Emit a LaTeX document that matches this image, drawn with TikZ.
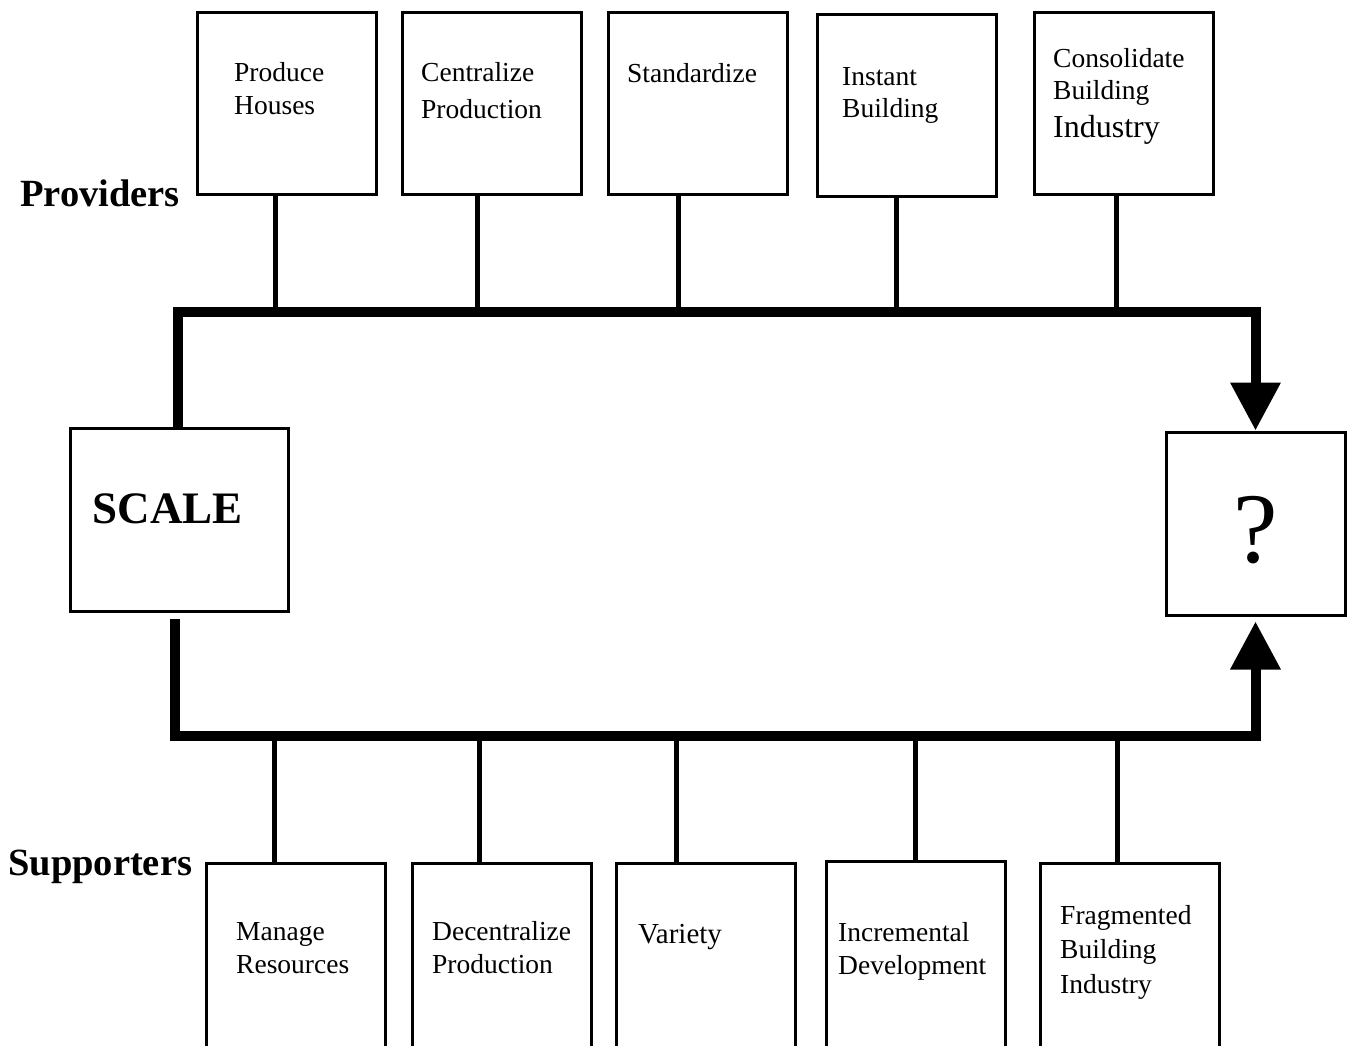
\documentclass[tikz,border=0pt]{standalone}
\usepackage{fontspec}
\setmainfont{Liberation Serif}
\usetikzlibrary{arrows.meta}
\begin{document}
\begin{tikzpicture}[x=1pt,y=-1pt,
  boxed/.style={draw,line width=3pt,minimum width=179pt,minimum height=182pt,
                anchor=north west,inner sep=0pt,xshift=1.5pt,yshift=-1.5pt},
  tall/.style={boxed,minimum height=200pt},
  txt/.style={anchor=base west,inner sep=0pt,font=\fontsize{27.5}{32}\selectfont},
  bigtxt/.style={txt,font=\fontsize{32}{36}\selectfont},
  heading/.style={anchor=base west,inner sep=0pt,font=\fontsize{38.5}{42}\selectfont\bfseries},
  stem/.style={line width=4.5pt},
  bus/.style={line width=10pt,line join=miter},
  tip/.style={-{Triangle[width=48pt,length=48pt]}}]
\clip (0,0) rectangle (1353,1046);

% providers row
\node[boxed] (p1) at (194,10) {};
\node[boxed] (p2) at (399,10) {};
\node[boxed] (p3) at (605,10) {};
\node[boxed] (p4) at (814,12) {};
\node[boxed] (p5) at (1031,10) {};

\node[txt] (p1a) at (234,82) {Produce};
\node[txt] (p1b) at (234,115) {Houses};
\node[txt] (p2a) at (421,82) {Centralize};
\node[txt] (p2b) at (421,119) {Production};
\node[txt] (p3a) at (627,83) {Standardize};
\node[txt] (p4a) at (842,86) {Instant};
\node[txt] (p4b) at (842,118) {Building};
\node[txt] (p5a) at (1053,68) {Consolidate};
\node[txt] (p5b) at (1053,100) {Building};
\node[bigtxt] (p5c) at (1053,138) {Industry};

\node[heading] (prov) at (20,207) {Providers};

% central boxes
\node[boxed,minimum width=218pt,minimum height=183pt] (scale) at (67,425) {};
\node[anchor=base,inner sep=0pt,font=\fontsize{45}{50}\selectfont\bfseries]
  (scalet) at (168,523) {SCALE};
\node[boxed,minimum height=183pt] (q) at (1163,429) {};
\node[anchor=base,inner sep=0pt,font=\fontsize{100}{110}\selectfont]
  (qt) at (q.center |- 0,562) {?};

% supporters row
\node[tall] (s1) at (203,860) {};
\node[tall] (s2) at (409,860) {};
\node[tall] (s3) at (613,860) {};
\node[tall] (s4) at (823,858) {};
\node[tall] (s5) at (1037,860) {};

\node[txt] (s1a) at (236,940) {Manage};
\node[txt] (s1b) at (236,973) {Resources};
\node[txt] (s2a) at (432,940) {Decentralize};
\node[txt] (s2b) at (432,973) {Production};
\node[txt,font=\fontsize{29}{32}\selectfont] (s3a) at (638,943) {Variety};
\node[txt] (s4a) at (838,941) {Incremental};
\node[txt] (s4b) at (838,974) {Development};
\node[txt] (s5a) at (1060,924) {Fragmented};
\node[txt] (s5b) at (1060,958) {Building};
\node[txt] (s5c) at (1060,993) {Industry};

\node[heading] (supp) at (8,875) {Supporters};

% bus corners
\coordinate (tl) at (178,312);
\coordinate (bl) at (175,736);

% upper bus into the result box
\draw[bus,tip] (scale.north -| tl) -- (tl) -- (tl -| q.north) -- (q.north);
% lower bus into the result box
\draw[bus,tip,shorten >=5pt] ([yshift=-6pt]scale.south -| bl) -- (bl) -- (bl -| q.south) -- (q.south);

% stems from the provider boxes
\draw[stem] ([xshift=-11pt]p1.south) -- ([xshift=-11pt]p1.south |- tl);
\draw[stem] ([xshift=-14pt]p2.south) -- ([xshift=-14pt]p2.south |- tl);
\draw[stem] ([xshift=-19pt]p3.south) -- ([xshift=-19pt]p3.south |- tl);
\draw[stem] ([xshift=-10pt]p4.south) -- ([xshift=-10pt]p4.south |- tl);
\draw[stem] ([xshift=-7pt]p5.south) -- ([xshift=-7pt]p5.south |- tl);

% stems from the supporter boxes
\draw[stem] ([xshift=-21pt]s1.north) -- ([xshift=-21pt]s1.north |- bl);
\draw[stem] ([xshift=-22pt]s2.north) -- ([xshift=-22pt]s2.north |- bl);
\draw[stem] ([xshift=-29pt]s3.north) -- ([xshift=-29pt]s3.north |- bl);
\draw[stem] (s4.north) -- (s4.north |- bl);
\draw[stem] ([xshift=-12pt]s5.north) -- ([xshift=-12pt]s5.north |- bl);
\end{tikzpicture}
\end{document}
